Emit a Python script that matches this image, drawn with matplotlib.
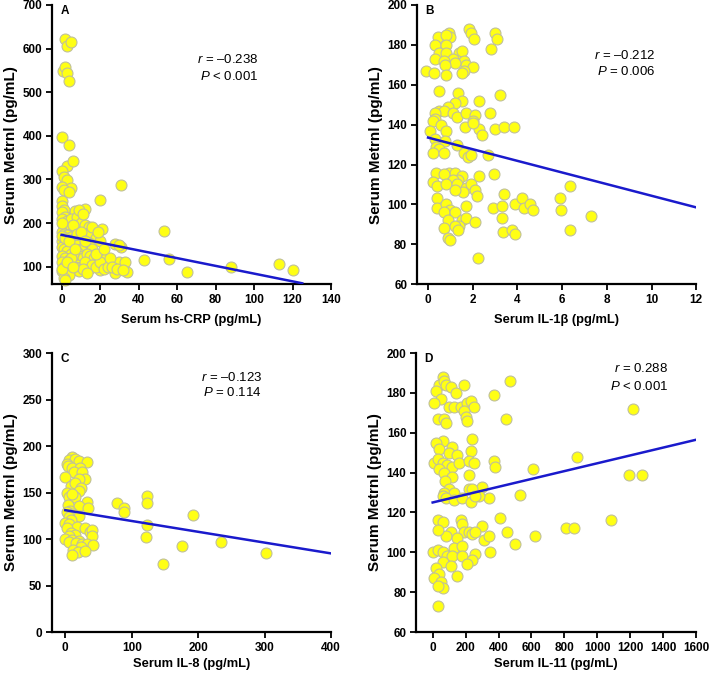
import numpy as np
import matplotlib
matplotlib.use("Agg")
import matplotlib.pyplot as plt

plt.rcParams['font.family'] = ['Liberation Sans', 'DejaVu Sans']
plt.rcParams['mathtext.fontset'] = 'custom'
plt.rcParams['mathtext.it'] = 'Liberation Sans:italic'
plt.rcParams['mathtext.rm'] = 'Liberation Sans'

# ---- panel A : hs-CRP vs Metrnl
crp_x = [2, 3, 5, 0.5, 2, 3, 4, 0, 4, 3, 6, 0, 1, 3, 0, 5, 1, 4, 0, 20, 31, 7, 12, 53, 21, 28, 31,
         43, 56, 65, 88, 113, 120, 30, 33, 28, 34, 23, 20, 15, 15,
         0, 1, 0, 2, 0, 1, 3, 5, 8, 10, 12, 14, 17, 2, 4, 6, 0, 1, 3, 5, 7, 9, 11, 13, 15, 18, 20,
         0, 2, 4, 6, 8, 10, 12, 14, 16, 0, 1, 3, 5, 7, 9, 11, 13, 15, 17, 19, 21, 23, 0, 2, 4, 6,
         8, 10, 12, 14, 16, 18, 20, 22, 24, 0, 1, 3, 5, 7, 9, 11, 13, 0, 2, 4, 1, 2, 0, 25, 26, 18,
         22, 16, 19, 9, 11, 0, 0, 2, 4, 6, 8, 10, 12, 5, 3, 7, 6, 30, 29, 32]
crp_y = [622, 607, 615, 548, 558, 545, 525, 398, 380, 330, 343, 320, 305, 298, 283, 280, 276, 272,
         250, 252, 287, 227, 233, 182, 186, 152, 146, 116, 118, 88, 100, 107, 93, 110, 110, 85, 88,
         108, 92, 110, 97,
         240, 230, 225, 215, 210, 200, 205, 210, 215, 200, 195, 190, 185, 190, 185, 180, 180, 175,
         172, 168, 165, 160, 170, 175, 180, 165, 160, 160, 155, 150, 145, 150, 140, 150, 155, 140,
         145, 140, 135, 130, 130, 125, 120, 130, 125, 120, 115, 130, 120, 125, 120, 115, 110, 105,
         100, 110, 95, 105, 100, 110, 95, 100, 110, 100, 95, 90, 100, 90, 95, 85, 90, 85, 80, 75,
         70, 95, 120, 100, 130, 140, 190, 180, 230, 220, 200, 170, 165, 160, 195, 175, 180, 160,
         120, 110, 140, 100, 150, 95, 92]

# ---- panel B : IL-1beta vs Metrnl
il1b_x = [1.85, 1.9, 3.0, 3.1, 2.05, 0.95, 1.0, 0.45, 0.8, 0.3, 0.8, 0.5, 0.8, 1.4, 1.5, 1.6, 1.7,
          1.1, 1.2, 0.3, 0.7, 0.75, 2.0, 1.6, 1.5, -0.1, 0.25, 0.8, 2.8, 0.5, 1.35, 3.2, 2.3, 1.5,
          1.2, 0.9, 0.5, 0.7, 0.3, 0.3, 0.2, 1.1, 1.3, 1.7, 2.1, 2.0, 2.3, 2.4, 1.65, 2.0, 2.75,
          3.0, 3.4, 3.85, 0.6, 0.8, 0.1, 0.3, 0.75, 0.35, 0.5, 0.2, 0.7, 1.3, 1.6, 1.8, 1.9, 2.7,
          0.35, 0.95, 1.2, 0.7, 1.5, 1.35, 1.1, 0.2, 0.4, 0.8, 1.3, 1.7, 1.9, 2.3, 2.1, 2.2, 1.55,
          1.2, 2.95, 0.4, 0.4, 0.8, 1.0, 0.7, 1.2, 1.7, 0.9, 1.5, 1.7, 1.4, 0.7, 1.2, 1.35, 2.1,
          0.9, 1.0, 2.25, 2.9, 3.3, 3.3, 3.4, 3.35, 3.75, 3.9, 3.9, 4.2, 4.3, 4.55, 4.7, 5.9, 5.95,
          6.35, 6.35, 7.3]
il1b_y = [188, 186, 186, 183, 183, 186, 184, 184, 185, 180, 180, 176, 176, 176, 177, 172, 170,
          173, 171, 173, 172, 170, 169, 167, 166, 167, 166, 165, 178, 157, 156, 155, 152, 152,
          151, 149, 147, 147, 146, 143, 142, 146, 144, 146, 145, 142, 138, 135, 139, 141, 146,
          138, 139, 139, 140, 137, 137, 133, 132, 129, 128, 126, 126, 130, 126, 124, 125, 125,
          116, 116, 116, 115, 114, 112, 112, 111, 109, 110, 110, 108, 110, 114, 107, 104, 106,
          107, 115, 103, 98, 100, 97, 96, 96, 99, 92, 92, 93, 89, 88, 89, 87, 91,
          83, 82, 73, 98, 99, 93, 105, 86, 87, 85, 100, 103, 98, 100, 97, 103, 97,
          109, 87, 94]

# ---- panel C : IL-8 vs Metrnl
il8_x = [78, 88, 89, 121, 123, 123, 123, 147, 176, 192, 234, 302,
         10, 5, 15, 20, 33, 3, 4, 10, 22, 13, 25, 0, 29, 20, 8, 15, 24, 20, 3, 5, 15, 10, 33, 4,
         20, 34, 7, 2, 12, 20, 5, 9, 0, 6, 17, 2, 30, 37, 40, 40, 9, 15, 5, 0, 10, 20, 5, 16, 25,
         33, 42, 23, 12, 19, 10, 30]
il8_y = [139, 133, 129, 102, 146, 139, 115, 73, 93, 126, 97, 85,
         188, 185, 186, 184, 183, 181, 179, 176, 176, 172, 172, 167, 165, 164, 157, 160, 155,
         152, 150, 145, 145, 148, 140, 137, 136, 133, 130, 129, 127, 125, 124, 120, 117, 116,
         113, 112, 112, 108, 110, 103, 106, 104, 103, 100, 99, 98, 97, 96, 95, 95, 94, 91, 88,
         86, 83, 87]

# ---- panel D : IL-11 vs Metrnl
il11_x = [470, 375, 445, 1215, 875, 1190, 1270, 610, 375, 380, 345, 530, 300, 280, 410, 450, 500,
          620, 810, 860, 1080, 350, 300, 310, 340,
          60, 40, 70, 80, 20, 50, 110, 140, 190, 10, 100, 130, 170, 210, 230, 250, 190, 200, 30,
          70, 80, 210, 60, 20, 40, 120, 100, 150, 240, 230, 10, 30, 60, 90, 120, 160, 220, 250,
          40, 70, 120, 220, 75, 220, 100, 70, 130, 240, 60, 80, 130, 180, 230, 260, 30, 60, 170,
          180, 110, 190, 220, 240, 260, 80, 150, 30, 0, 30, 60, 130, 180, 260, 90, 120, 180, 240,
          210, 60, 110, 150, 20, 40, 10, 50, 60, 30, 30]
il11_y = [186, 179, 167, 172, 148, 139, 139, 142, 146, 143, 127, 129, 133, 128, 117, 110, 104,
          108, 112, 112, 116, 100, 113, 106, 108,
          188, 184, 186, 184, 181, 177, 183, 180, 184, 175, 173, 173, 173, 175, 176, 173, 171,
          168, 167, 167, 165, 166, 156, 155, 152, 153, 150, 149, 157, 151, 145, 147, 145, 144,
          143, 145, 146, 145, 142, 140, 138, 139, 136, 132, 132, 130, 130, 132, 128, 127, 126,
          127, 125, 128, 116, 115, 116, 114, 110, 110, 110, 109, 110, 108, 107, 111, 100, 101,
          100, 102, 103, 99, 98, 98, 98, 96, 94, 95, 93, 88, 92, 89, 87, 85, 82, 83, 73]

# fitted regression lines (end points)
fit_a = ([0, 125], [173, 62])
fit_b = ([0, 12], [133.5, 98.5])
fit_c = ([0, 400], [131, 84.5])
fit_d = ([0, 1600], [125, 156.5])

panels = [
    dict(x=crp_x, y=crp_y, fit=fit_a, letter='A', xlabel='Serum hs-CRP (pg/mL)',
         xlim=(-5, 140), xt=np.arange(0, 141, 20), ylim=(60, 700), yt=np.arange(100, 701, 100),
         r='\u20130.238', p='< 0.001', ptxt=(0.74, 0.806, 0.745),
         pos=[0.0733, 0.579, 0.3937, 0.4136], lpad=6),
    dict(x=il1b_x, y=il1b_y, fit=fit_b, letter='B', xlabel='Serum IL-1\u03b2 (pg/mL)',
         xlim=(-0.5, 12), xt=np.arange(0, 13, 2), ylim=(60, 200), yt=np.arange(60, 201, 20),
         r='\u20130.212', p='= 0.006', ptxt=(0.853, 0.82, 0.76),
         pos=[0.588, 0.579, 0.394, 0.4136], lpad=6),
    dict(x=il8_x, y=il8_y, fit=fit_c, letter='C', xlabel='Serum IL-8 (pg/mL)',
         xlim=(-20, 400), xt=np.arange(0, 401, 100), ylim=(0, 300), yt=np.arange(0, 301, 50),
         r='\u20130.123', p='= 0.114', ptxt=(0.753, 0.914, 0.857),
         pos=[0.0733, 0.0637, 0.3937, 0.4133], lpad=3),
    dict(x=il11_x, y=il11_y, fit=fit_d, letter='D', xlabel='Serum IL-11 (pg/mL)',
         xlim=(-100, 1600), xt=np.arange(0, 1601, 200), ylim=(60, 200), yt=np.arange(60, 201, 20),
         r='0.288', p='< 0.001', ptxt=(0.9, 0.946, 0.88),
         pos=[0.587, 0.0637, 0.395, 0.4133], lpad=3),
]

fig = plt.figure(figsize=(7.09, 6.75), dpi=100)

for pn in panels:
    ax = fig.add_axes(pn['pos'])
    ax.scatter(pn['x'], pn['y'], s=62, c='#ffff14', edgecolors='#c0c09a', linewidths=0.8,
               zorder=2, clip_on=False)
    ax.plot(pn['fit'][0], pn['fit'][1], color='#1a1acc', lw=1.8, zorder=3)
    ax.set_xlim(pn['xlim'])
    ax.set_ylim(pn['ylim'])
    ax.set_xticks(pn['xt'])
    ax.set_yticks(pn['yt'])
    for s in ['top', 'right']:
        ax.spines[s].set_visible(False)
    for s in ['left', 'bottom']:
        ax.spines[s].set_linewidth(1.6)
    ax.tick_params(direction='out', length=4, width=1.3, labelsize=8.5, pad=3)
    for lab in ax.get_xticklabels() + ax.get_yticklabels():
        lab.set_fontweight('bold')
    ax.set_xlabel(pn['xlabel'], fontsize=9.3, fontweight='bold', labelpad=pn['lpad'])
    ax.set_ylabel('Serum Metrnl (pg/mL)', fontsize=11, fontweight='bold', labelpad=3)
    ax.text(0.03, 1.0, pn['letter'], transform=ax.transAxes, fontsize=8.5,
            fontweight='bold', va='top', ha='left')
    tx, ry, py = pn['ptxt']
    ax.text(tx, ry, r'$\it{r}$ = ' + pn['r'], transform=ax.transAxes, fontsize=9.5,
            ha='right', va='center')
    ax.text(tx, py, r'$\it{P}$ ' + pn['p'], transform=ax.transAxes, fontsize=9.5,
            ha='right', va='center')

fig.savefig('out.png', dpi=100)
